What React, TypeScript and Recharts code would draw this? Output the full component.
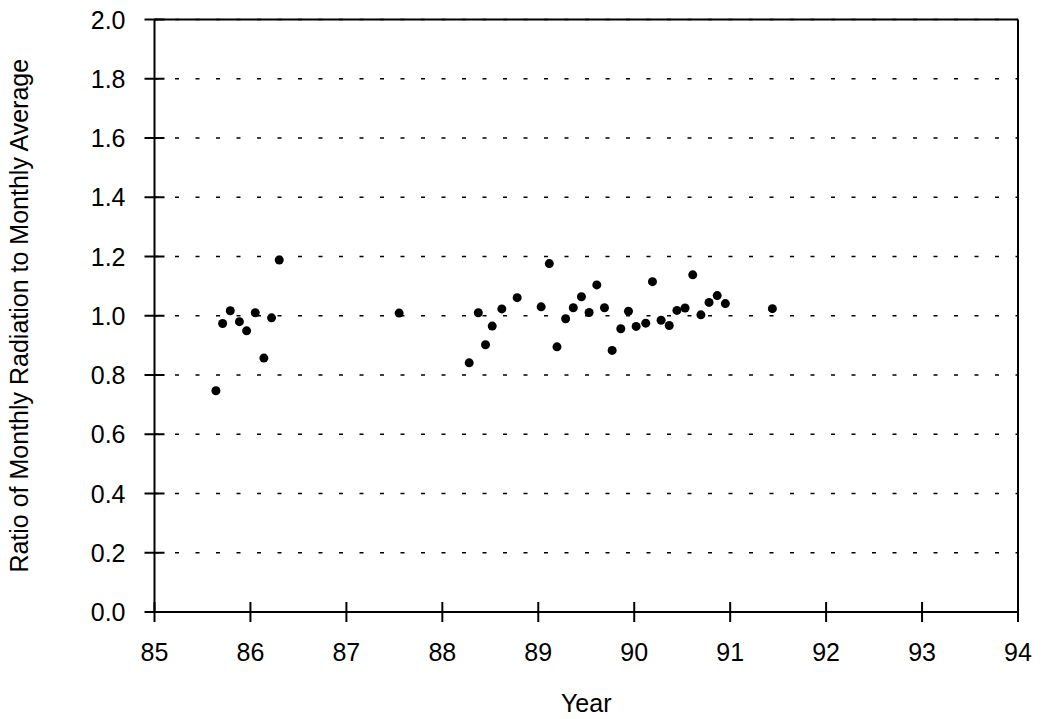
import {
  ScatterChart,
  Scatter,
  XAxis,
  YAxis,
  CartesianGrid,
  ReferenceLine,
} from "recharts";

// ── Data ──────────────────────────────────────────────────────────────────────

const years = [
  85.64, 85.71, 85.79, 85.885, 85.96, 86.05, 86.14, 86.22, 86.3,
  87.55,
  88.28, 88.375, 88.45, 88.52, 88.62, 88.78, 89.03, 89.115, 89.195, 89.285,
  89.365, 89.45, 89.53, 89.61, 89.69, 89.77, 89.86, 89.94, 90.02, 90.12,
  90.19, 90.28, 90.365, 90.445, 90.53, 90.61, 90.695, 90.78, 90.865, 90.95,
  91.44,
];

const ratios = [
  0.747, 0.974, 1.017, 0.98, 0.949, 1.01, 0.857, 0.993, 1.188,
  1.009,
  0.841, 1.01, 0.902, 0.965, 1.023, 1.061, 1.03, 1.176, 0.895, 0.99,
  1.027, 1.064, 1.011, 1.104, 1.027, 0.883, 0.956, 1.015, 0.964, 0.975,
  1.115, 0.985, 0.967, 1.018, 1.026, 1.138, 1.003, 1.045, 1.068, 1.041,
  1.024,
];

const xTicks = [85, 86, 87, 88, 89, 90, 91, 92, 93, 94];
const yTicks = [0, 0.2, 0.4, 0.6, 0.8, 1.0, 1.2, 1.4, 1.6, 1.8, 2.0];

const xLabel = "Year";
const yLabel = "Ratio of Monthly Radiation to Monthly Average";

const points = years.map((year, i) => ({ year, ratio: ratios[i] }));

// ── Styling ───────────────────────────────────────────────────────────────────

const FONT = "'Liberation Sans', Arial, Helvetica, sans-serif";
const FONT_SIZE = 25;
const INK = "#000";

// y ticks: a short line crossing the axis, label to the left
function YTick({ x, y, payload }: any) {
  return (
    <g>
      <line x1={x - 10} x2={x + 10} y1={y} y2={y} stroke={INK} strokeWidth={2} />
      <text
        x={x - 29}
        y={y + 9}
        textAnchor="end"
        fontFamily={FONT}
        fontSize={FONT_SIZE}
        fill={INK}
      >
        {Number(payload.value).toFixed(1)}
      </text>
    </g>
  );
}

// x ticks: crossing line, label below
function XTick({ x, y, payload }: any) {
  return (
    <g>
      <line x1={x} x2={x} y1={y - 10} y2={y + 10} stroke={INK} strokeWidth={2} />
      <text
        x={x}
        y={y + 49}
        textAnchor="middle"
        fontFamily={FONT}
        fontSize={FONT_SIZE}
        fill={INK}
      >
        {payload.value}
      </text>
    </g>
  );
}

function Dot(props: any) {
  return <circle cx={props.cx} cy={props.cy} r={4.5} fill={INK} />;
}

export default function App() {
  return (
    <div style={{ position: "absolute", left: 0, top: 0, background: "#fff" }}>
      <ScatterChart
        width={1044}
        height={719}
        margin={{ top: 19.5, right: 26, bottom: 0, left: 0 }}
      >
        <CartesianGrid
          vertical={false}
          stroke={INK}
          strokeWidth={1.5}
          strokeDasharray="4 16.5"
        />
        <XAxis
          type="number"
          dataKey="year"
          domain={[85, 94]}
          ticks={xTicks}
          interval={0}
          height={107}
          axisLine={{ stroke: INK, strokeWidth: 2 }}
          tickLine={false}
          tickSize={0}
          tickMargin={0}
          tick={<XTick />}
          label={{
            value: xLabel,
            position: "insideBottom",
            offset: 7,
            style: { fontFamily: FONT, fontSize: FONT_SIZE, fill: INK },
          }}
        />
        <YAxis
          type="number"
          dataKey="ratio"
          domain={[0, 2]}
          ticks={yTicks}
          interval={0}
          width={154.5}
          axisLine={{ stroke: INK, strokeWidth: 2 }}
          tickLine={false}
          tickSize={0}
          tickMargin={0}
          tick={<YTick />}
          label={{
            value: yLabel,
            angle: -90,
            position: "insideLeft",
            offset: 19,
            style: {
              fontFamily: FONT,
              fontSize: FONT_SIZE,
              fill: INK,
              textAnchor: "middle",
            },
          }}
        />
        {/* plot frame: top and right edges */}
        <ReferenceLine y={2} stroke={INK} strokeWidth={2} />
        <ReferenceLine x={94} stroke={INK} strokeWidth={2} />
        <Scatter data={points} fill={INK} shape={<Dot />} isAnimationActive={false} />
      </ScatterChart>
    </div>
  );
}
